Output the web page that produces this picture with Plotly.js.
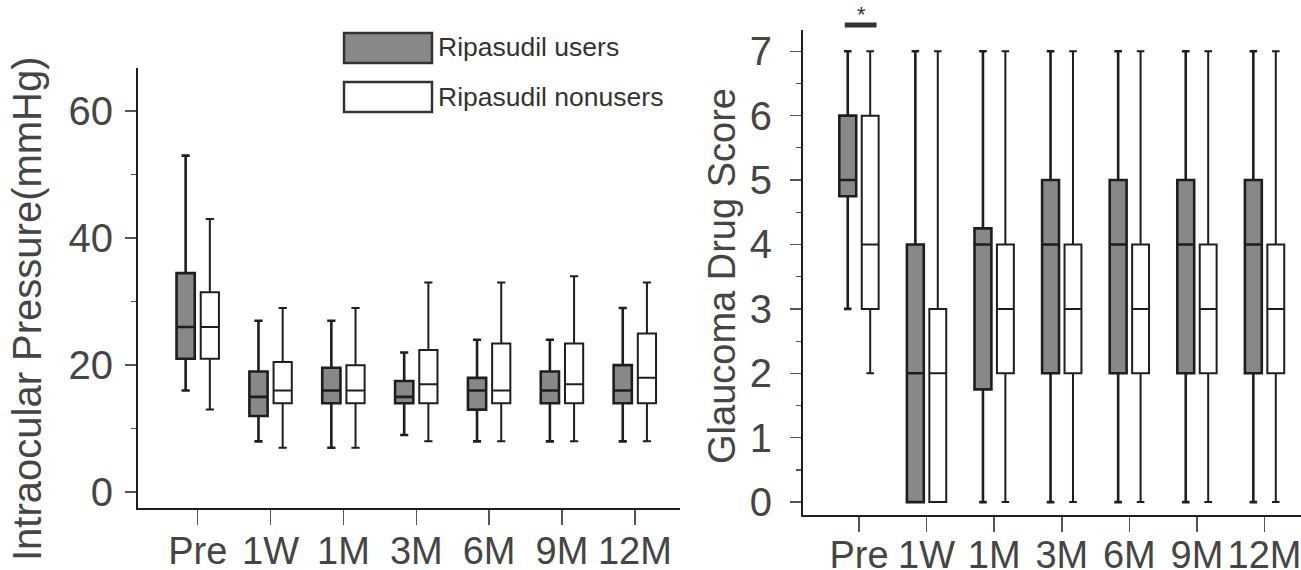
<!DOCTYPE html>
<html>
<head>
<meta charset="utf-8">
<script src="https://cdn.plot.ly/plotly-3.0.1.min.js"></script>
<style>html,body{margin:0;padding:0;background:#fff}#chart{width:1301px;height:570px}</style>
</head>
<body>
<div id="chart"></div>
<script>
// ---- Data ----
const categories = ["Pre", "1W", "1M", "3M", "6M", "9M", "12M"];

// Intraocular pressure (mmHg)
const iopUsersLower  = [16, 8, 7, 9, 8, 8, 8];
const iopUsersQ1     = [21, 12, 14, 14, 13, 14, 14];
const iopUsersMedian = [26, 15, 16, 15, 16, 16, 16];
const iopUsersQ3     = [34.5, 19, 19.6, 17.5, 18, 19, 20];
const iopUsersUpper  = [53, 27, 27, 22, 24, 24, 29];

const iopNonLower  = [13, 7, 7, 8, 8, 8, 8];
const iopNonQ1     = [21, 14, 14, 14, 14, 14, 14];
const iopNonMedian = [26, 16, 16, 17, 16, 17, 18];
const iopNonQ3     = [31.5, 20.5, 20, 22.4, 23.4, 23.4, 25];
const iopNonUpper  = [43, 29, 29, 33, 33, 34, 33];

// Glaucoma drug score
const gdsUsersLower  = [3, 0, 0, 0, 0, 0, 0];
const gdsUsersQ1     = [4.75, 0, 1.75, 2, 2, 2, 2];
const gdsUsersMedian = [5, 2, 4, 4, 4, 4, 4];
const gdsUsersQ3     = [6, 4, 4.25, 5, 5, 5, 5];
const gdsUsersUpper  = [7, 7, 7, 7, 7, 7, 7];

const gdsNonLower  = [2, 0, 0, 0, 0, 0, 0];
const gdsNonQ1     = [3, 0, 2, 2, 2, 2, 2];
const gdsNonMedian = [4, 2, 3, 3, 3, 3, 3];
const gdsNonQ3     = [6, 3, 4, 4, 4, 4, 4];
const gdsNonUpper  = [7, 7, 7, 7, 7, 7, 7];

const seriesNames = ["Ripasudil users", "Ripasudil nonusers"];
const titles = ["Intraocular Pressure(mmHg)", "Glaucoma Drug Score"];

// ---- Styles / layout ----
const W = 1301, H = 570;
const usersFill = "#888888";
const nonFill = "#ffffff";
const edge = "#1e1e1e";
const txt = "#454545";
const FONT = "Liberation Sans, Arial, sans-serif";
const BOX_W = 0.25;     // box width in category units
const OFF = 0.166;      // half distance between paired boxes

const idx = categories.map((c, i) => i);

function boxTrace(name, xa, ya, shift, lower, q1, med, q3, upper, fill, lw) {
  return {
    type: "box", name: name, x: idx.map(i => i + shift),
    lowerfence: lower, q1: q1, median: med, q3: q3, upperfence: upper,
    xaxis: xa, yaxis: ya,
    width: BOX_W,
    fillcolor: fill,
    line: {color: edge, width: lw},
    whiskerwidth: 0.45,
    boxpoints: false,
    showlegend: false,
    hoverinfo: "skip"
  };
}

const data = [
  boxTrace(seriesNames[0], "x", "y", -OFF, iopUsersLower, iopUsersQ1, iopUsersMedian, iopUsersQ3, iopUsersUpper, usersFill, 2.6),
  boxTrace(seriesNames[1], "x", "y", OFF, iopNonLower, iopNonQ1, iopNonMedian, iopNonQ3, iopNonUpper, nonFill, 2),
  boxTrace(seriesNames[0], "x2", "y2", -OFF, gdsUsersLower, gdsUsersQ1, gdsUsersMedian, gdsUsersQ3, gdsUsersUpper, usersFill, 2.6),
  boxTrace(seriesNames[1], "x2", "y2", OFF, gdsNonLower, gdsNonQ1, gdsNonMedian, gdsNonQ3, gdsNonUpper, nonFill, 2)
];

function xAxis(domain, range, anchor, standoff) {
  return {
    type: "linear", domain: domain, range: range, anchor: anchor,
    tickmode: "array", tickvals: idx, ticktext: categories,
    showline: true, linecolor: edge, linewidth: 2,
    ticks: "outside", ticklen: 15, tickwidth: 1.5, tickcolor: "#555",
    ticklabelstandoff: standoff,
    ticklabeloverflow: "allow",
    showgrid: false, zeroline: false,
    tickfont: {family: FONT, size: 38, color: txt},
    fixedrange: true
  };
}
function yAxis(domain, range, anchor, dtick, standoff) {
  return {
    domain: domain, range: range, anchor: anchor,
    showline: true, linecolor: edge, linewidth: 2,
    ticks: "outside", ticklen: 11, tickwidth: 1.5, tickcolor: "#555",
    ticklabelstandoff: standoff,
    dtick: dtick, tick0: 0,
    minor: {ticks: "outside", ticklen: 5, tickwidth: 1.2, tickcolor: "#555", dtick: dtick / 2, tick0: 0},
    showgrid: false, zeroline: false,
    tickfont: {family: FONT, size: 40, color: txt},
    fixedrange: true
  };
}

const layout = {
  width: W, height: H,
  margin: {l: 0, r: 0, t: 0, b: 0},
  paper_bgcolor: "#fff", plot_bgcolor: "#fff",
  boxmode: "overlay",
  showlegend: false,
  xaxis: xAxis([138 / W, 680 / W], [-0.82, 6.62], "y", -7),
  yaxis: yAxis([1 - 508 / H, 1 - 68 / H], [-2.5, 66.8], "x", 20, 4),
  xaxis2: xAxis([803 / W, 1], [-0.828, 6.539], "y2", -10),
  yaxis2: yAxis([1 - 515 / H, 1 - 30 / H], [-0.2, 7.33], "x2", 1, 10),
  shapes: [
    // legend swatches
    {type: "rect", xref: "paper", yref: "paper", x0: 344 / W, x1: 432 / W, y0: 1 - 63 / H, y1: 1 - 33 / H,
     fillcolor: usersFill, line: {color: "#333", width: 2.5}},
    {type: "rect", xref: "paper", yref: "paper", x0: 344 / W, x1: 432 / W, y0: 1 - 112 / H, y1: 1 - 82 / H,
     fillcolor: nonFill, line: {color: "#333", width: 2.5}},
    // significance bar over Pre
    {type: "line", xref: "x2", yref: "paper", x0: -0.21, x1: 0.26, y0: 1 - 25 / H, y1: 1 - 25 / H,
     line: {color: "#333", width: 5}}
  ],
  annotations: [
    {xref: "paper", yref: "paper", x: 27 / W, y: 1 - 309 / H, xanchor: "center", yanchor: "middle",
     text: titles[0], textangle: -90, showarrow: false, font: {family: FONT, size: 40, color: txt}},
    {xref: "paper", yref: "paper", x: 722 / W, y: 1 - 276 / H, xanchor: "center", yanchor: "middle",
     text: titles[1], textangle: -90, showarrow: false, font: {family: FONT, size: 38, color: txt}},
    {xref: "paper", yref: "paper", x: 436 / W, y: 1 - 47 / H, xanchor: "left", yanchor: "middle",
     text: seriesNames[0], showarrow: false, font: {family: FONT, size: 26.5, color: "#333"}},
    {xref: "paper", yref: "paper", x: 436 / W, y: 1 - 97 / H, xanchor: "left", yanchor: "middle",
     text: seriesNames[1], showarrow: false, font: {family: FONT, size: 26.5, color: "#333"}},
    {xref: "x2", yref: "paper", x: 0.03, y: 1 - 15 / H, xanchor: "center", yanchor: "middle",
     text: "*", showarrow: false, font: {family: FONT, size: 22, color: "#333"}}
  ]
};

Plotly.newPlot("chart", data, layout, {staticPlot: true, displayModeBar: false});
</script>
</body>
</html>
